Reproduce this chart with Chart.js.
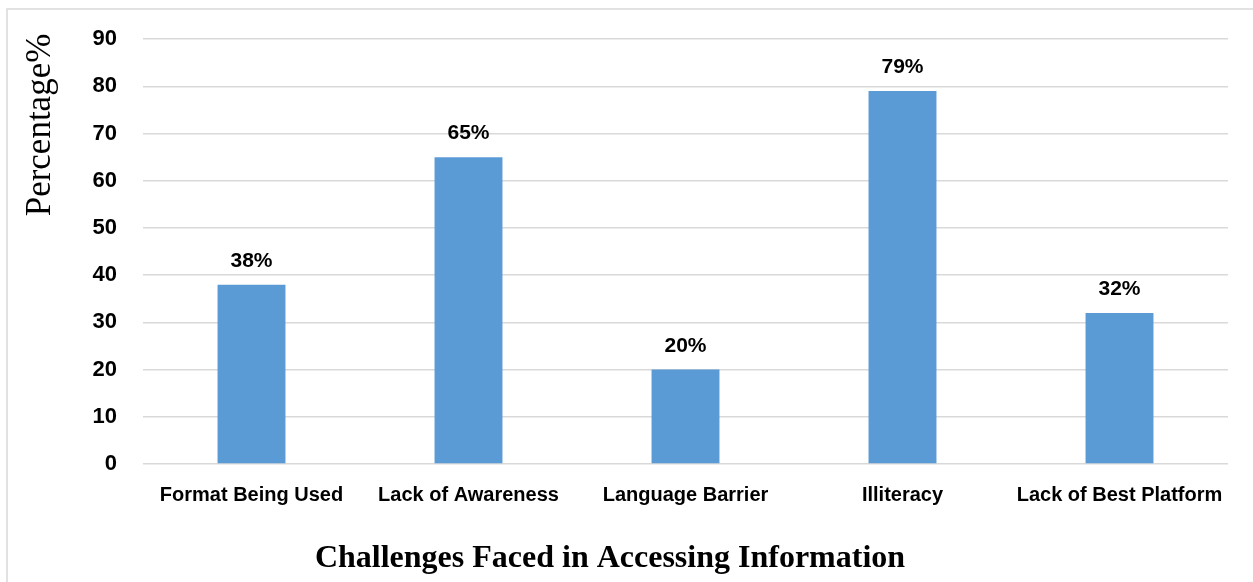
<!DOCTYPE html>
<html>
<head>
<meta charset="utf-8">
<title>Challenges Faced in Accessing Information</title>
<script src="https://cdn.jsdelivr.net/npm/chart.js@4/dist/chart.umd.min.js"></script>
<style>
  body { margin: 0; background: #fff; }
  #wrap { width: 1253px; height: 582px; position: relative; }
</style>
</head>
<body>
<div id="wrap"><canvas id="myChart" width="1253" height="582"></canvas></div>
<script>
const categories = ["Format Being Used", "Lack of Awareness", "Language Barrier", "Illiteracy", "Lack of Best Platform"];
const percentages = [38, 65, 20, 79, 32];
const yTicks = [0, 10, 20, 30, 40, 50, 60, 70, 80, 90];
const xTitle = "Challenges Faced in Accessing Information";
const yTitle = "Percentage%";

// light frame, axis titles and the value labels above each bar
const decorations = {
  id: "decorations",
  beforeDraw(chart) {
    const ctx = chart.ctx;
    ctx.save();
    ctx.fillStyle = "#ffffff";
    ctx.fillRect(0, 0, chart.width, chart.height);
    ctx.strokeStyle = "#d9d9d9";
    ctx.lineWidth = 1.5;
    ctx.beginPath();
    ctx.moveTo(chart.width, 9);
    ctx.lineTo(7, 9);
    ctx.lineTo(7, chart.height);
    ctx.stroke();
    ctx.restore();
  },
  afterDatasetsDraw(chart) {
    const ctx = chart.ctx;
    const meta = chart.getDatasetMeta(0);
    ctx.save();
    ctx.fillStyle = "#000";
    ctx.textAlign = "center";
    ctx.textBaseline = "alphabetic";
    ctx.font = "bold 21px 'Liberation Sans', Arial, sans-serif";
    meta.data.forEach((bar, i) => {
      ctx.fillText(percentages[i] + "%", bar.x, bar.y - 18);
    });

    ctx.font = "bold 32px 'Liberation Serif', 'Times New Roman', serif";
    ctx.fillText(xTitle, 610, 567);

    ctx.translate(50, 125);
    ctx.rotate(-Math.PI / 2);
    ctx.font = "35px 'Liberation Serif', 'Times New Roman', serif";
    ctx.fillText(yTitle, 0, 0);
    ctx.restore();
  }
};

const chart = new Chart(document.getElementById("myChart"), {
  type: "bar",
  data: {
    labels: categories,
    datasets: [{
      data: percentages,
      backgroundColor: "#5b9bd5",
      borderWidth: 0,
      categoryPercentage: 1,
      barPercentage: 0.313
    }]
  },
  options: {
    responsive: false,
    animation: false,
    layout: { padding: { top: 38, right: 25, bottom: 0, left: 0 } },
    plugins: {
      legend: { display: false },
      tooltip: { enabled: false }
    },
    scales: {
      x: {
        grid: { display: false, drawTicks: false },
        border: { display: false },
        ticks: {
          color: "#000",
          padding: 19,
          maxRotation: 0,
          autoSkip: false,
          font: { family: "'Liberation Sans', Arial, sans-serif", size: 20, weight: "bold" }
        },
        afterFit(scale) { scale.height = 118; }
      },
      y: {
        min: 0,
        max: 90,
        afterBuildTicks(scale) { scale.ticks = yTicks.map(v => ({ value: v })); },
        grid: { color: "#d9d9d9", lineWidth: 1.5, drawTicks: false },
        border: { display: false },
        ticks: {
          color: "#000",
          padding: 26,
          font: { family: "'Liberation Sans', Arial, sans-serif", size: 22, weight: "bold" }
        },
        afterFit(scale) { scale.width = 143; }
      }
    }
  },
  plugins: [decorations]
});
</script>
</body>
</html>
